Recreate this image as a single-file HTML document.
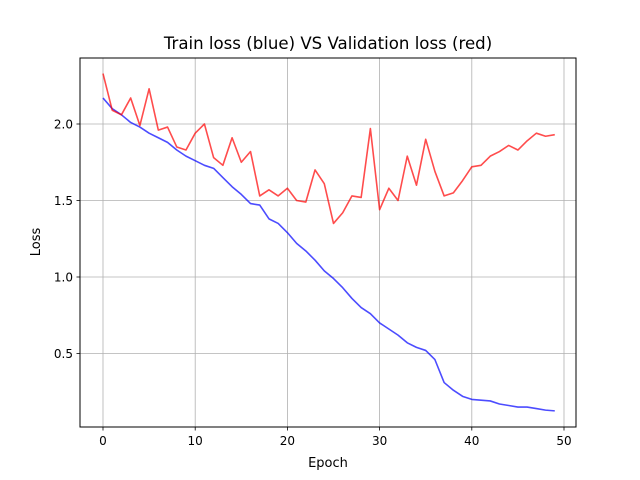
<!DOCTYPE html>
<html><head><meta charset="utf-8"><style>
body{margin:0;background:#fff}
svg{display:block;font-family:"DejaVu Sans","Liberation Sans",sans-serif}
</style></head><body>
<svg id="chart" width="640" height="480" viewBox="0 0 640 480" xmlns="http://www.w3.org/2000/svg">
<rect width="640" height="480" fill="#fff"/>
<g id="grid"></g>
<g id="ticks"></g>
<g id="series"></g>
<rect x="80" y="58" width="496" height="369" fill="none" stroke="#000" stroke-width="1"/>
<text x="328" y="49" font-size="16.6" text-anchor="middle">Train loss (blue) VS Validation loss (red)</text>
<text x="328" y="467" font-size="13" text-anchor="middle">Epoch</text>
<text x="0" y="0" font-size="13" text-anchor="middle" transform="translate(40 242) rotate(-90)">Loss</text>
</svg>
<script>
const xTicks=[0,10,20,30,40,50];
const yTicks=[0.5,1.0,1.5,2.0];
const yTickLabels=["0.5","1.0","1.5","2.0"];
const trainLoss=[2.17,2.10,2.06,2.01,1.98,1.94,1.91,1.88,1.83,1.79,1.76,1.73,1.71,1.65,1.59,1.54,1.48,1.47,1.38,1.35,1.29,1.22,1.17,1.11,1.04,0.99,0.93,0.86,0.80,0.76,0.70,0.66,0.62,0.57,0.54,0.52,0.46,0.31,0.26,0.22,0.20,0.195,0.19,0.17,0.16,0.15,0.15,0.14,0.13,0.125];
const valLoss=[2.33,2.09,2.06,2.17,1.99,2.23,1.96,1.98,1.85,1.83,1.94,2.00,1.78,1.73,1.91,1.75,1.82,1.53,1.57,1.53,1.58,1.50,1.49,1.70,1.61,1.35,1.42,1.53,1.52,1.97,1.44,1.58,1.50,1.79,1.60,1.90,1.69,1.53,1.55,1.63,1.72,1.73,1.79,1.82,1.86,1.83,1.89,1.94,1.92,1.93];
const NS="http://www.w3.org/2000/svg";
const xs=v=>103+v*(461/50);
const ys=v=>124+(2-v)*153;
const grid=document.getElementById('grid'),ticks=document.getElementById('ticks'),series=document.getElementById('series');
function mk(tag,attrs,parent){const e=document.createElementNS(NS,tag);for(const k in attrs)e.setAttribute(k,attrs[k]);parent.appendChild(e);return e;}
xTicks.forEach(t=>{
 const x=xs(t);
 const g=mk('line',{x1:x,x2:x,y1:58,y2:427,stroke:'#b0b0b0','stroke-width':0.8},grid);
 
 
 mk('line',{x1:x,x2:x,y1:427,y2:430.5,stroke:'#000','stroke-width':0.8},ticks);
 const tx=mk('text',{x:x,y:445,'font-size':12,'text-anchor':'middle'},ticks);
 tx.textContent=t;
 
 
});
yTicks.forEach((t,i)=>{
 const y=ys(t);
 const g=mk('line',{x1:80,x2:576,y1:y,y2:y,stroke:'#b0b0b0','stroke-width':0.8},grid);
 
 
 mk('line',{x1:76.5,x2:80,y1:y,y2:y,stroke:'#000','stroke-width':0.8},ticks);
 const tx=mk('text',{x:73,y:y+4.5,'font-size':12,'text-anchor':'end'},ticks);
 tx.textContent=yTickLabels[i];
 
 
});
function line(data,color,name){
 const p=mk('polyline',{points:data.map((v,i)=>xs(i)+','+ys(v)).join(' '),fill:'none',stroke:color,'stroke-opacity':0.7,'stroke-width':1.6,'stroke-linejoin':'round'},series);
 
 
}
line(trainLoss,'#0000ff','train-loss-line');
line(valLoss,'#ff0000','validation-loss-line');
</script>
</body></html>
